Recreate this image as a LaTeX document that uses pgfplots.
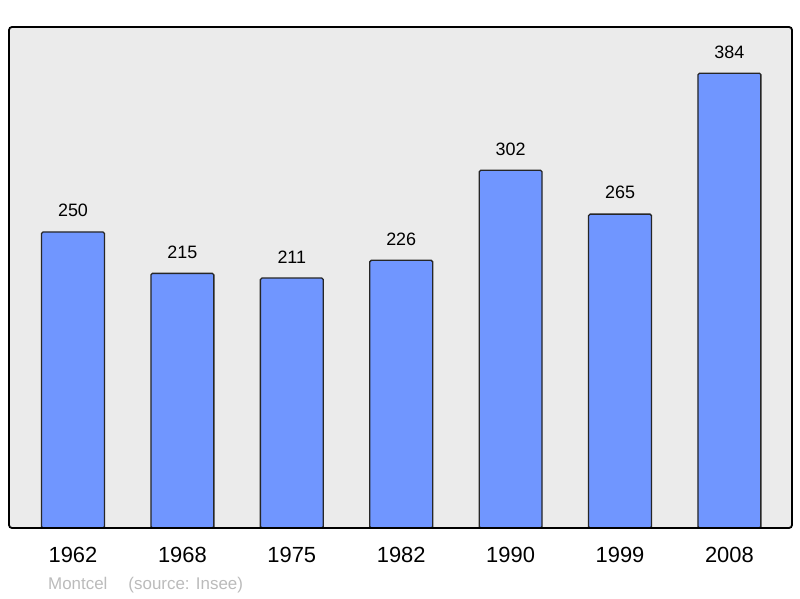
\documentclass[border=0pt]{standalone}
\usepackage{pgfplots}
\pgfplotsset{compat=1.18}
\usepackage{fontspec}
\setmainfont{Liberation Sans}

\definecolor{barblue}{HTML}{7096FF}
\definecolor{panel}{HTML}{EBEBEB}
\definecolor{srcgray}{HTML}{BBBBBB}

\begin{document}
\begin{tikzpicture}
\begin{axis}[
  scale only axis,
  width=783bp, height=501bp,
  xmin=-0.585, xmax=6.572,
  ymin=0, ymax=423,
  axis background/.style={fill=panel},
  axis line style={draw=none},
  xtick={0,...,6},
  xticklabels={1962,1968,1975,1982,1990,1999,2008},
  ytick=\empty,
  major tick length=0pt,
  ticklabel style={font=\fontsize{22}{25}\selectfont},
  xticklabel style={yshift=-16bp},
  /pgf/number format/assume math mode=true,
  ybar,
  bar width=0.575,
  nodes near coords,
  nodes near coords style={font=\fontsize{18}{21}\selectfont, yshift=11bp},
  clip=false,
]
\addplot[fill=barblue, draw=black!85, line width=1.3pt, rounded corners=1.5bp] coordinates {
  (0,250) (1,215) (2,211) (3,226) (4,302) (5,265) (6,384)
};
\draw[line width=1.8pt, black, rounded corners=3bp]
  (rel axis cs:0,0) rectangle (rel axis cs:1,1);
\end{axis}
\node[anchor=base west, inner sep=0pt, text=srcgray, font=\fontsize{17}{20}\selectfont]
  at ([xshift=39bp,yshift=-61bp]current axis.south west) {Montcel\hspace{21bp}(source: Insee)};
\pgfresetboundingbox
\useasboundingbox ([xshift=-9bp,yshift=-70bp]current axis.south west)
  rectangle ([xshift=8bp,yshift=27bp]current axis.north east);
\end{tikzpicture}
\end{document}
